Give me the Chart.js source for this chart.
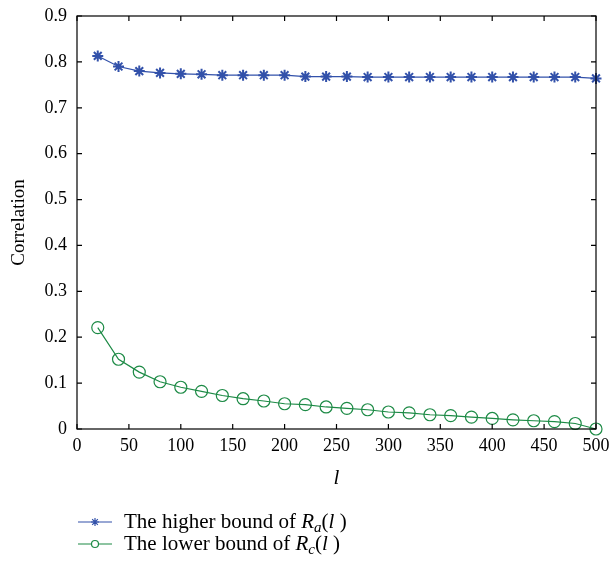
<!DOCTYPE html>
<html>
<head>
<meta charset="utf-8">
<script src="https://cdn.jsdelivr.net/npm/chart.js@4"></script>
<style>
  body { margin: 0; background: #fff; }
  #wrap { width: 611px; height: 561px; }
</style>
</head>
<body>
<div id="wrap"><canvas id="chart" width="611" height="561"></canvas></div>
<script>
// Data
const lValues = [20, 40, 60, 80, 100, 120, 140, 160, 180, 200, 220, 240, 260,
                 280, 300, 320, 340, 360, 380, 400, 420, 440, 460, 480, 500];
const higherBound = [0.813, 0.790, 0.780, 0.776, 0.774, 0.773, 0.771, 0.771, 0.771, 0.771,
                     0.768, 0.768, 0.768, 0.767, 0.767, 0.767, 0.767, 0.767, 0.767, 0.767,
                     0.767, 0.767, 0.767, 0.767, 0.764];
const lowerBound = [0.221, 0.152, 0.124, 0.103, 0.091, 0.082, 0.073, 0.066, 0.061, 0.055,
                    0.053, 0.048, 0.045, 0.042, 0.037, 0.035, 0.031, 0.029, 0.026, 0.023,
                    0.020, 0.018, 0.016, 0.012, 0.000];
const xTicks = [0, 50, 100, 150, 200, 250, 300, 350, 400, 450, 500];
const yTicks = [0, 0.1, 0.2, 0.3, 0.4, 0.5, 0.6, 0.7, 0.8, 0.9];

const blue = '#3251aa';
const green = '#1c8a45';
const serif = '"Liberation Serif", "DejaVu Serif", serif';

// Box around the plot with inward tick marks on all four sides
const framePlugin = {
    id: 'frame',
    afterDatasetsDraw(chart) {
        const { ctx, chartArea: a, scales } = chart;
        const len = 5;
        ctx.save();
        ctx.strokeStyle = '#000';
        ctx.lineWidth = 1.2;
        ctx.strokeRect(a.left, a.top, a.right - a.left, a.bottom - a.top);
        ctx.beginPath();
        scales.x.ticks.forEach(t => {
            const px = scales.x.getPixelForValue(t.value);
            ctx.moveTo(px, a.bottom); ctx.lineTo(px, a.bottom - len);
            ctx.moveTo(px, a.top); ctx.lineTo(px, a.top + len);
        });
        scales.y.ticks.forEach(t => {
            const py = scales.y.getPixelForValue(t.value);
            ctx.moveTo(a.left, py); ctx.lineTo(a.left + len, py);
            ctx.moveTo(a.right, py); ctx.lineTo(a.right - len, py);
        });
        ctx.stroke();
        ctx.restore();
    }
};

// Legend below the plot, with italic R and subscripts
const legendPlugin = {
    id: 'richLegend',
    afterDraw(chart) {
        const ctx = chart.ctx;
        const items = [
            { ds: chart.data.datasets[0], sub: 'a', label: 'The higher bound of ', y: 522 },
            { ds: chart.data.datasets[1], sub: 'c', label: 'The lower bound of ', y: 544 }
        ];
        const x0 = 78, x1 = 112, tx = 124;
        ctx.save();
        items.forEach(it => {
            ctx.strokeStyle = it.ds.borderColor;
            ctx.lineWidth = 1.2;
            ctx.beginPath();
            ctx.moveTo(x0, it.y); ctx.lineTo(x1, it.y);
            ctx.stroke();
            ctx.fillStyle = '#fff';
            Chart.helpers.drawPoint(ctx, {
                pointStyle: it.ds.pointStyle,
                radius: it.ds.pointStyle === 'circle' ? 3.5 : 4,
                borderWidth: it.ds.pointStyle === 'circle' ? 1.2 : 1.8
            }, (x0 + x1) / 2, it.y);

            ctx.fillStyle = '#000';
            ctx.textBaseline = 'alphabetic';
            const base = it.y + 6;
            let x = tx;
            const parts = [
                [it.label, '21px ' + serif, 0],
                ['R', 'italic 21px ' + serif, 0],
                [it.sub, 'italic 15px ' + serif, 4],
                ['(', '21px ' + serif, 0],
                ['l', 'italic 21px ' + serif, 0],
                [' )', '21px ' + serif, 0]
            ];
            parts.forEach(([txt, font, dy]) => {
                ctx.font = font;
                ctx.fillText(txt, x, base + dy);
                x += ctx.measureText(txt).width;
            });
        });
        ctx.restore();
    }
};

new Chart(document.getElementById('chart'), {
    type: 'line',
    data: {
        labels: lValues,
        datasets: [
            {
                label: 'The higher bound of Ra(l)',
                data: lValues.map((l, i) => ({ x: l, y: higherBound[i] })),
                borderColor: blue,
                backgroundColor: blue,
                borderWidth: 1.2,
                pointStyle: 'star',
                pointRadius: 5.5,
                pointBorderWidth: 2,
                pointBorderColor: blue,
                tension: 0
            },
            {
                label: 'The lower bound of Rc(l)',
                data: lValues.map((l, i) => ({ x: l, y: lowerBound[i] })),
                borderColor: green,
                backgroundColor: 'rgba(0,0,0,0)',
                borderWidth: 1.2,
                pointStyle: 'circle',
                pointRadius: 6,
                pointBorderWidth: 1.2,
                pointBorderColor: green,
                pointBackgroundColor: 'rgba(0,0,0,0)',
                tension: 0
            }
        ]
    },
    options: {
        responsive: false,
        animation: false,
        clip: false,
        layout: { padding: { top: 16, right: 15, left: 0, bottom: 70 } },
        plugins: {
            legend: { display: false },
            tooltip: { enabled: false }
        },
        scales: {
            x: {
                type: 'linear',
                min: 0,
                max: 500,
                afterBuildTicks: s => { s.ticks = xTicks.map(v => ({ value: v })); },
                afterFit: s => { s.height = 62; s.paddingLeft = 0; s.paddingRight = 0; },
                grid: { display: false, drawTicks: false },
                border: { display: false },
                ticks: { color: '#000', padding: 6, maxRotation: 0, font: { family: serif, size: 18 } },
                title: {
                    display: true,
                    text: 'l',
                    color: '#000',
                    padding: { top: 0, bottom: 0 },
                    font: { family: serif, size: 21, style: 'italic' }
                }
            },
            y: {
                min: 0,
                max: 0.9,
                afterBuildTicks: s => { s.ticks = yTicks.map(v => ({ value: v })); },
                afterFit: s => { s.width = 77; s.paddingTop = 0; s.paddingBottom = 0; },
                grid: { display: false, drawTicks: false },
                border: { display: false },
                ticks: {
                    color: '#000',
                    padding: 10,
                    font: { family: serif, size: 18 },
                    callback: v => String(Math.round(v * 10) / 10)
                },
                title: {
                    display: true,
                    text: 'Correlation',
                    color: '#000',
                    padding: { top: 8, bottom: 0 },
                    font: { family: serif, size: 19 }
                }
            }
        }
    },
    plugins: [framePlugin, legendPlugin]
});
</script>
</body>
</html>
